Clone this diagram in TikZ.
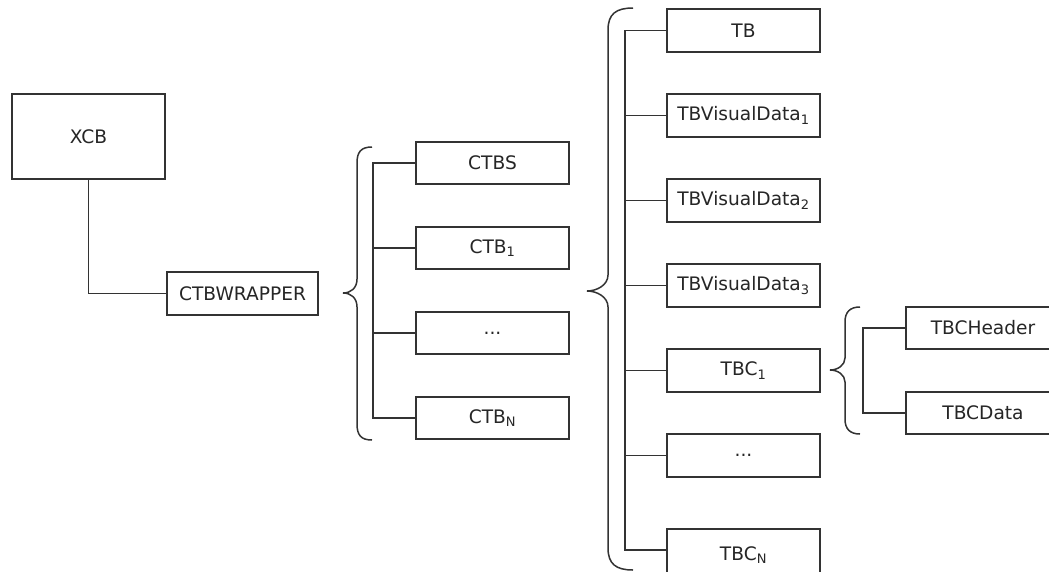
\documentclass[tikz,border=0pt]{standalone}
\usepackage{fontspec}
\setmainfont{DejaVu Sans}
\begin{document}
\begin{tikzpicture}[x=1pt,y=-1pt,
  box/.style={draw=black!80, line width=1.6pt, minimum width=153pt, minimum height=42pt, inner sep=0pt, anchor=center, text=black!85, font=\fontsize{18.6}{20}\selectfont},
  link/.style={draw=black!80, line width=1.6pt},
  brc/.style={draw=black!80, line width=1.5pt}]
\useasboundingbox (0,0) rectangle (1049,571);
\clip (0,0) rectangle (1049,571);
\fill[white] (0,0) rectangle (1049,571);
% left
\node[box, minimum width=153pt, minimum height=85pt] (xcb) at (88.5,136.5) {XCB};
\node[box, minimum width=151pt, minimum height=43pt] (wrap) at (242.5,293.5) {CTBWRAPPER};
\draw[link] (xcb.south) |- (wrap.west);
% CTB group
\node[box] (ctbs) at (492.5,163) {CTBS};
\node[box] (ctb1) at (492.5,248) {CTB\textsubscript{1}};
\node[box] (ctbd) at (492.5,333) {...};
\node[box] (ctbn) at (492.5,418) {CTB\textsubscript{N}};
\coordinate (t1) at (373,0);
\draw[link] (ctbs.west) -- (ctbs.west -| t1) |- (ctbn.west);
\draw[link] (ctb1.west) -- (ctb1.west -| t1);
\draw[link] (ctbd.west) -- (ctbd.west -| t1);
\draw[brc] (372,147) .. controls (361,147) and (357,152) .. (357,163) -- (357,279)
  .. controls (357,288) and (351,293) .. (343,293)
  .. controls (351,293) and (357,298) .. (357,307) -- (357,424)
  .. controls (357,435) and (361,440) .. (372,440);
% TB group
\node[box, minimum height=43pt] (tb) at (743.5,30.5) {TB};
\node[box, minimum height=43pt] (vd1) at (743.5,115.5) {TBVisualData\textsubscript{1}};
\node[box, minimum height=43pt] (vd2) at (743.5,200.5) {TBVisualData\textsubscript{2}};
\node[box, minimum height=43pt] (vd3) at (743.5,285.5) {TBVisualData\textsubscript{3}};
\node[box, minimum height=43pt] (tbc1) at (743.5,370.5) {TBC\textsubscript{1}};
\node[box, minimum height=43pt] (tbcd) at (743.5,455.5) {...};
\node[box, minimum height=52pt] (tbcn) at (743.5,555) {TBC\textsubscript{N}};
\coordinate (t2) at (625,0);
\coordinate (tbcnl) at (667,550);
\draw[link] (tb.west) -- (tb.west -| t2) |- (tbcnl);
\foreach \n in {vd1,vd2,vd3,tbc1,tbcd} \draw[link] (\n.west) -- (\n.west -| t2);
\draw[brc] (633,8) .. controls (616,8) and (608,14) .. (608,30) -- (608,275)
  .. controls (608,285) and (597,291) .. (587,291)
  .. controls (597,291) and (608,297) .. (608,307) -- (608,548)
  .. controls (608,564) and (616,570) .. (633,570);
% TBC group
\node[box, minimum width=154pt] (hdr) at (983,328) {TBCHeader};
\node[box, minimum width=154pt] (dat) at (983,413) {TBCData};
\coordinate (t3) at (863,0);
\draw[link] (hdr.west) -- (hdr.west -| t3) |- (dat.west);
\draw[brc] (860,307) .. controls (850,307) and (845,312) .. (845,322) -- (845,358)
  .. controls (845,365) and (838,370) .. (830,370)
  .. controls (838,370) and (845,375) .. (845,382) -- (845,419)
  .. controls (845,429) and (850,434) .. (860,434);
\end{tikzpicture}
\end{document}
